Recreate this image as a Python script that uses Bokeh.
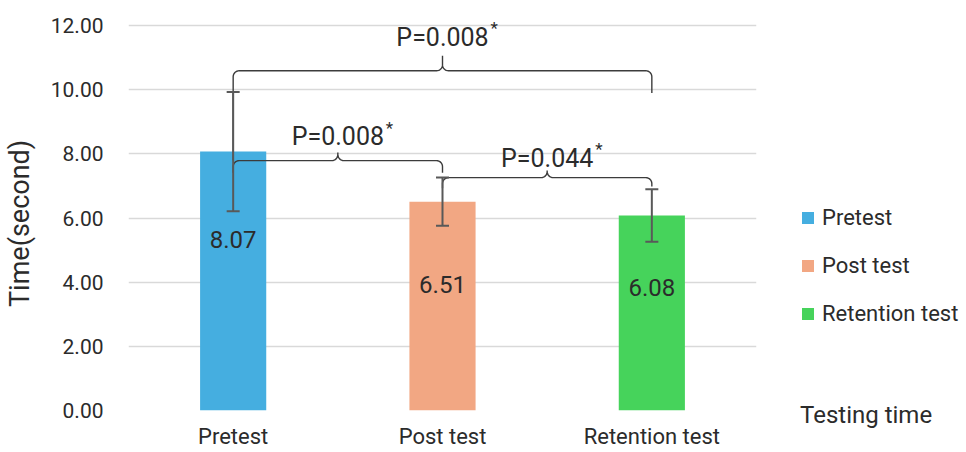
import math
from bokeh.plotting import figure
from bokeh.models import (FactorRange, Range1d, ColumnDataSource, Whisker, TeeHead,
                          Legend, LegendItem, FixedTicker, NumeralTickFormatter)
from bokeh.core.properties import value
from bokeh.embed import file_html
from bokeh.resources import INLINE

# ---- data ----
categories = ["Pretest", "Post test", "Retention test"]
means = [8.07, 6.51, 6.08]
sds = [1.86, 0.75, 0.82]
y_ticks = [0, 2, 4, 6, 8, 10, 12]
comparisons = [(0, 1), (1, 2), (0, 2)]
p_values = ["0.008", "0.044", "0.008"]

# ---- layout / style ----
bar_colors = ["#45AEE0", "#F2A783", "#46D35B"]
bracket_level = [7.79, 7.26, 10.59]
bracket_peak = [0.25, 0.22, 0.47]
bracket_leg_ends = [(7.41, 7.41), (6.93, 6.98), (7.79, 9.9)]
p_label_y = [8.53, 7.87, 11.64]
value_label_y = [5.33, 3.93, 3.83]

FONT = "Roboto"
TXT = "#2b2b2b"
FRAME_W, FRAME_H = 628, 401
LEFT, RIGHT, TOP, BOTTOM = 120, 202, 9, 40
Y_END = 12.5
px_x = FRAME_W / len(categories)
px_y = FRAME_H / Y_END

p = figure(x_range=FactorRange(factors=categories, range_padding=0),
           y_range=Range1d(0, Y_END), frame_width=FRAME_W, frame_height=FRAME_H,
           output_backend="svg", toolbar_location=None,
           min_border_left=LEFT, min_border_right=RIGHT,
           min_border_top=TOP, min_border_bottom=BOTTOM)
p.outline_line_color = None
p.background_fill_color = "white"

# bars
bars = []
for i, c in enumerate(categories):
    r = p.vbar(x=[c], top=[means[i]], width=0.316, fill_color=bar_colors[i],
               line_color=None)
    bars.append(r)

# error bars
src = ColumnDataSource(dict(cat=categories,
                            upper=[m + s for m, s in zip(means, sds)],
                            lower=[m - s for m, s in zip(means, sds)]))
wh = Whisker(base="cat", upper="upper", lower="lower", source=src,
             line_color="#595959", line_width=2, level="overlay",
             upper_head=TeeHead(size=13, line_color="#595959", line_width=2),
             lower_head=TeeHead(size=13, line_color="#595959", line_width=2))
p.add_layout(wh)

# value labels
p.text(x=categories, y=value_label_y, text=[f"{m:.2f}" for m in means],
       text_align="center", text_baseline="middle", text_font=value(FONT),
       text_font_size="24px", text_color=TXT)


def arc(cx, cy, rx, ry, a0, a1, n=8):
    xs, ys = [], []
    for k in range(n + 1):
        t = math.radians(a0 + (a1 - a0) * k / n)
        xs.append(cx + rx * math.cos(t))
        ys.append(cy + ry * math.sin(t))
    return xs, ys


def brace(x1, x2, h, le, re, pk):
    rx, ry = 6 / px_x, 6 / px_y
    xm = (x1 + x2) / 2
    xs, ys = [x1], [le]
    for seg in [arc(x1 + rx, h - ry, rx, ry, 180, 90),
                arc(xm - rx, h + ry, rx, ry, -90, 0)]:
        xs += seg[0]; ys += seg[1]
    xs.append(xm); ys.append(h + pk)
    for seg in [arc(xm + rx, h + ry, rx, ry, 180, 270),
                arc(x2 - rx, h - ry, rx, ry, 90, 0)]:
        xs += seg[0]; ys += seg[1]
    xs.append(x2); ys.append(re)
    return xs, ys


bxs, bys, tx, ty = [], [], [], []
for k, (i, j) in enumerate(comparisons):
    x1, x2 = i + 0.5, j + 0.5
    xs, ys = brace(x1, x2, bracket_level[k], bracket_leg_ends[k][0],
                   bracket_leg_ends[k][1], bracket_peak[k])
    bxs.append(xs); bys.append(ys)
    tx.append((x1 + x2) / 2); ty.append(p_label_y[k])
p.multi_line(bxs, bys, line_color="#3c3c3c", line_width=1.4)

p.text(x=tx, y=ty, text=[f"P={v}" for v in p_values], text_align="center",
       text_baseline="middle", text_font=value(FONT), text_font_size="25px",
       text_color=TXT)
p.text(x=tx, y=ty, text=["*"] * len(tx), text_align="left",
       text_baseline="middle", text_font=value(FONT), text_font_size="17px",
       x_offset=48, y_offset=-9, text_color=TXT)

# axes
p.xaxis.axis_line_color = None
p.xaxis.major_tick_line_color = None
p.xaxis.major_tick_out = 0
p.xaxis.major_tick_in = 0
p.xaxis.minor_tick_line_color = None
p.xaxis.major_label_text_font = FONT
p.xaxis.major_label_text_font_size = "22px"
p.xaxis.major_label_text_color = TXT
p.xaxis.major_label_standoff = 13

p.yaxis.ticker = FixedTicker(ticks=y_ticks)
p.yaxis.formatter = NumeralTickFormatter(format="0.00")
p.yaxis.axis_line_color = None
p.yaxis.major_tick_line_color = None
p.yaxis.major_tick_out = 0
p.yaxis.major_tick_in = 0
p.yaxis.minor_tick_line_color = None
p.yaxis.major_label_text_font = FONT
p.yaxis.major_label_text_font_size = "21px"
p.yaxis.major_label_text_color = TXT
p.yaxis.major_label_standoff = 25
p.yaxis.axis_label = "Time(second)\u00a0\u00a0\u00a0\u00a0"
p.yaxis.axis_label_text_font = FONT
p.yaxis.axis_label_text_font_size = "27px"
p.yaxis.axis_label_text_font_style = "normal"
p.yaxis.axis_label_text_color = TXT
p.yaxis.axis_label_standoff = 12

p.xgrid.grid_line_color = None
p.ygrid.ticker = FixedTicker(ticks=y_ticks)
p.ygrid.grid_line_color = "#D9D9D9"
p.ygrid.grid_line_width = 1.5

# legend (with "Testing time" as its title below the items)
items = [LegendItem(label=c, renderers=[bars[i]]) for i, c in enumerate(categories)]
legend = Legend(items=items, location=(44, -19), padding=0, margin=0,
                spacing=23, label_height=20, glyph_height=15, glyph_width=15,
                label_standoff=7, label_text_font=FONT, label_text_font_size="22px",
                label_text_color=TXT, border_line_color=None,
                background_fill_alpha=0,
                title="Testing time", title_location="below", title_standoff=75,
                title_text_font=FONT, title_text_font_size="24px",
                title_text_font_style="normal", title_text_color=TXT)
p.add_layout(legend, "right")

open("out.html", "w").write(file_html(p, INLINE))
